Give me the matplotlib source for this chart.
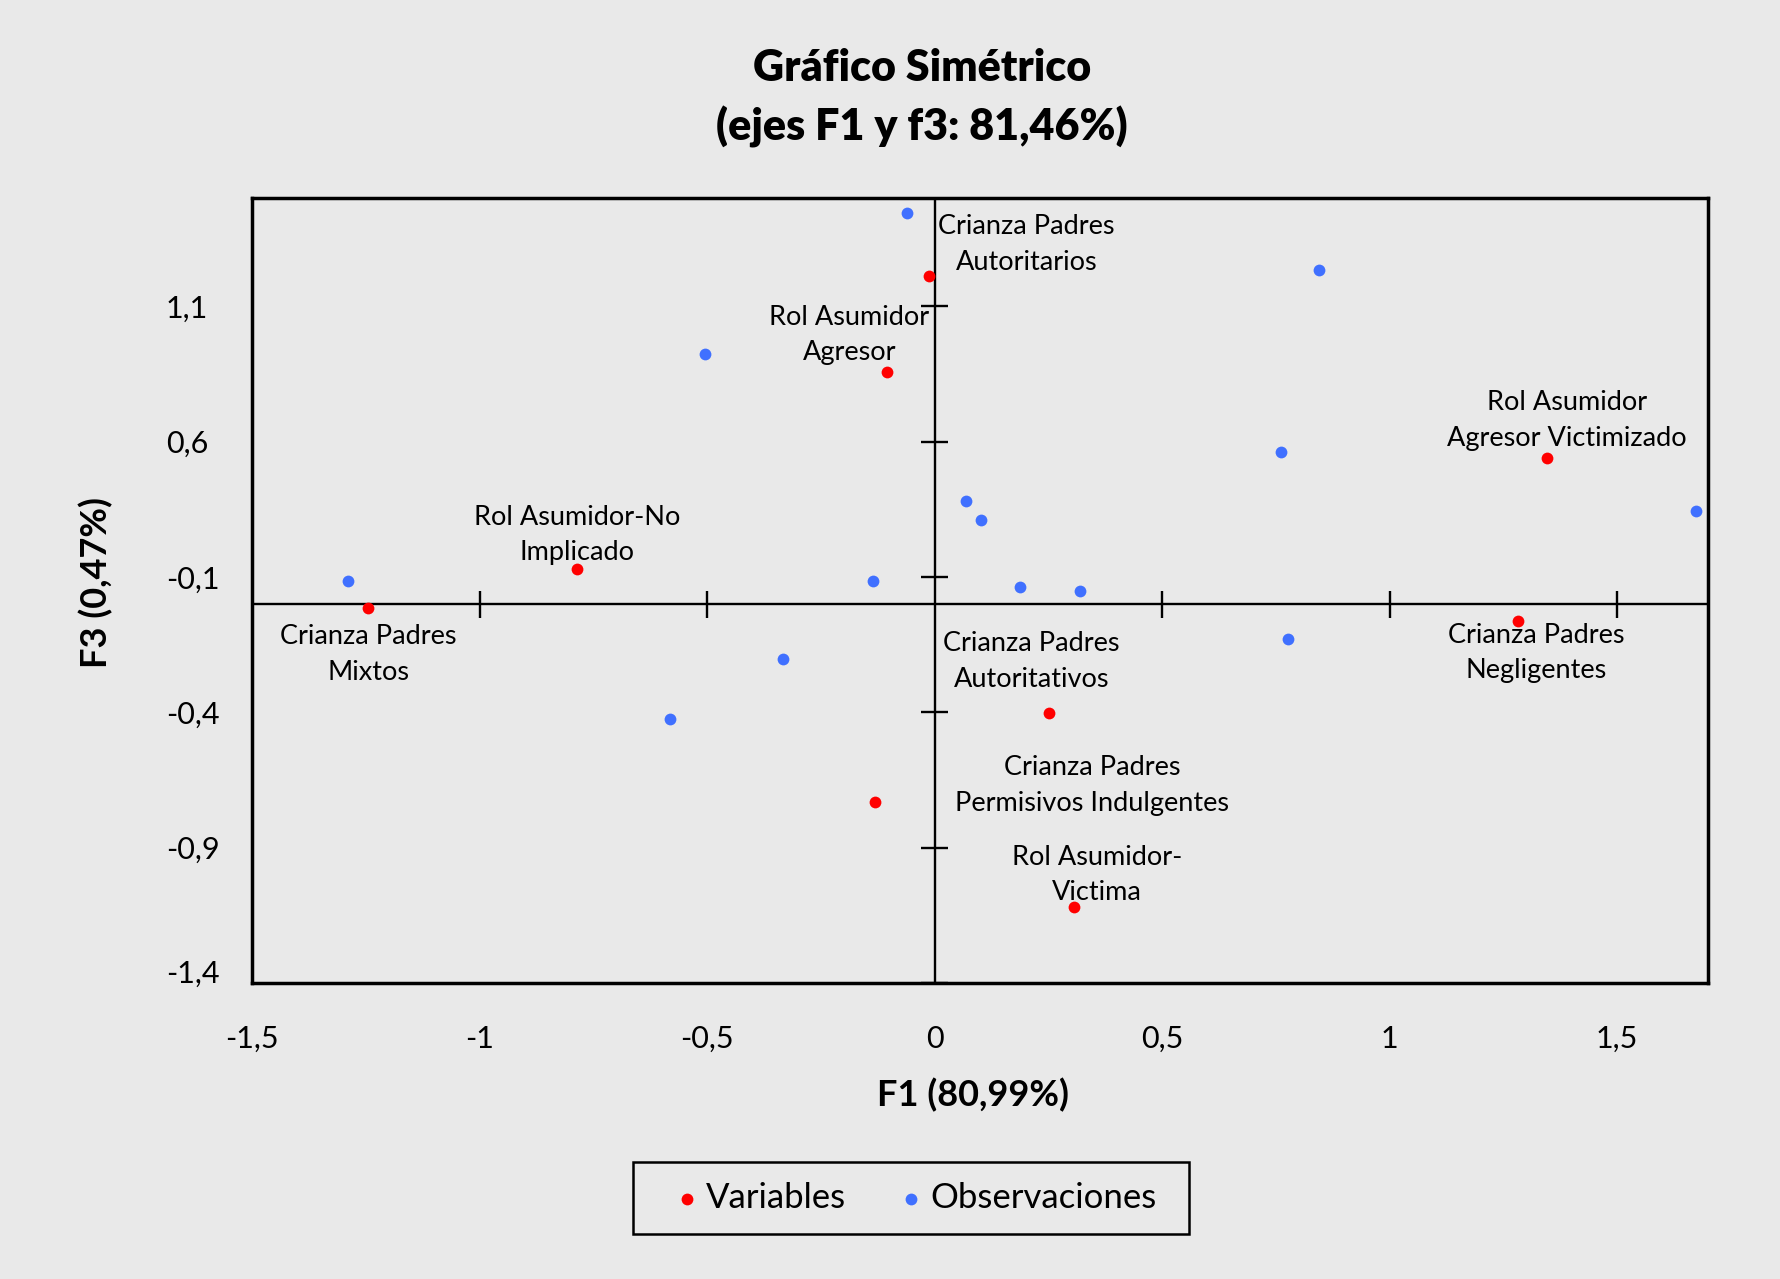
import matplotlib.pyplot as plt
from matplotlib.patches import Rectangle

plt.rcParams['font.family'] = ['Lato', 'DejaVu Sans']

# puntos de variables (rojo) y observaciones (azul), ejes F1 / F3
var_names = ['Crianza Padres\nAutoritarios', 'Rol Asumidor\nAgresor',
             'Rol Asumidor\nAgresor Victimizado', 'Rol Asumidor-No\nImplicado',
             'Crianza Padres\nMixtos', 'Crianza Padres\nNegligentes',
             'Crianza Padres\nAutoritativos', 'Crianza Padres\nPermisivos Indulgentes',
             'Rol Asumidor-\nVictima']
var_f1 = [-0.013, -0.104, 1.346, -0.785, -1.244, 1.283, 0.251, -0.130, 0.306]
var_f3 = [1.210, 0.857, 0.538, 0.130, -0.016, -0.063, -0.404, -0.730, -1.119]

obs_f1 = [-0.060, 0.844, -0.505, 0.762, 0.070, 0.103, 1.673, -1.288,
          -0.135, 0.189, 0.319, 0.776, -0.333, -0.581]
obs_f3 = [1.446, 1.234, 0.923, 0.560, 0.381, 0.312, 0.345, 0.085,
          0.085, 0.063, 0.047, -0.130, -0.203, -0.425]

x_ticks = [-1.5, -1, -0.5, 0, 0.5, 1, 1.5]
x_labels = ['-1,5', '-1', '-0,5', '0', '0,5', '1', '1,5']
y_ticks = [1.1, 0.6, 0.1, -0.4, -0.9, -1.4]
y_labels = ['1,1', '0,6', '-0,1', '-0,4', '-0,9', '-1,4']

# desplazamiento de cada etiqueta respecto a su punto (pixeles)
label_off = [(98, 32), (-38, 37), (20, 38), (0, 34), (0, -46),
             (18, -32), (-17, 52), (217, 16), (23, 32)]

BG = '#e9e9e9'
RED = '#ff0000'
BLUE = '#4070ff'
W, H = 1780, 1279

fig = plt.figure(figsize=(W / 100, H / 100), dpi=100, facecolor=BG)
ax = fig.add_axes([252 / W, 1 - 983 / H, (1708 - 252) / W, (983 - 198) / H])
ax.set_facecolor(BG)
ax.set_xlim(-1.5, 1.7)
ax.set_ylim(-1.4, 1.5)
for s in ax.spines.values():
    s.set_linewidth(2.5)

ax.axhline(0, color='black', lw=1.7, zorder=1)
ax.axvline(0, color='black', lw=1.7, zorder=1)
ax.vlines([t for t in x_ticks if t != 0], -0.05, 0.05, color='black', lw=1.7, zorder=1)
ax.hlines(y_ticks, -0.03, 0.03, color='black', lw=1.7, zorder=1)

ax.scatter(var_f1, var_f3, s=72, c=RED, linewidths=0, zorder=3, label='Variables')
ax.scatter(obs_f1, obs_f3, s=72, c=BLUE, linewidths=0, zorder=3, label='Observaciones')

for name, x, y, off in zip(var_names, var_f1, var_f3, label_off):
    ax.annotate(name, (x, y), xytext=off, textcoords='offset pixels',
                ha='center', va='center', fontsize=19.5, linespacing=1.52)

ax.set_xticks(x_ticks, x_labels)
ax.set_yticks(y_ticks, y_labels)
ax.tick_params(length=0, labelsize=22)
ax.tick_params(axis='x', pad=30)
ax.tick_params(axis='y', pad=62)
plt.setp(ax.get_yticklabels(), ha='left')
ax.get_yticklabels()[-1].set_verticalalignment('baseline')

fig.text(922 / W, 1 - 81 / H, 'Gráfico Simétrico', ha='center', va='baseline',
         fontsize=31, fontweight='heavy')
fig.text(922 / W, 1 - 141 / H, '(ejes F1 y f3: 81,46%)', ha='center', va='baseline',
         fontsize=31, fontweight='heavy')
fig.text(973 / W, 1 - 1095 / H, 'F1 (80,99%)', ha='center', va='center',
         fontsize=26, fontweight='bold')
fig.text(96 / W, 1 - 582 / H, 'F3 (0,47%)', ha='center', va='center', rotation=90,
         fontsize=26, fontweight='bold')

handles, labels = ax.get_legend_handles_labels()
fig.legend(handles, labels, loc='center', bbox_to_anchor=(918 / W, 1 - 1198 / H),
           ncol=2, frameon=False, fontsize=25, handlelength=0.4,
           handletextpad=0.35, columnspacing=1.67)
fig.add_artist(Rectangle((633 / W, 1 - 1234 / H), 556 / W, 72 / H,
                         transform=fig.transFigure, fill=False, lw=1.8,
                         edgecolor='black'))

fig.savefig('out.png', dpi=100, facecolor=BG)
